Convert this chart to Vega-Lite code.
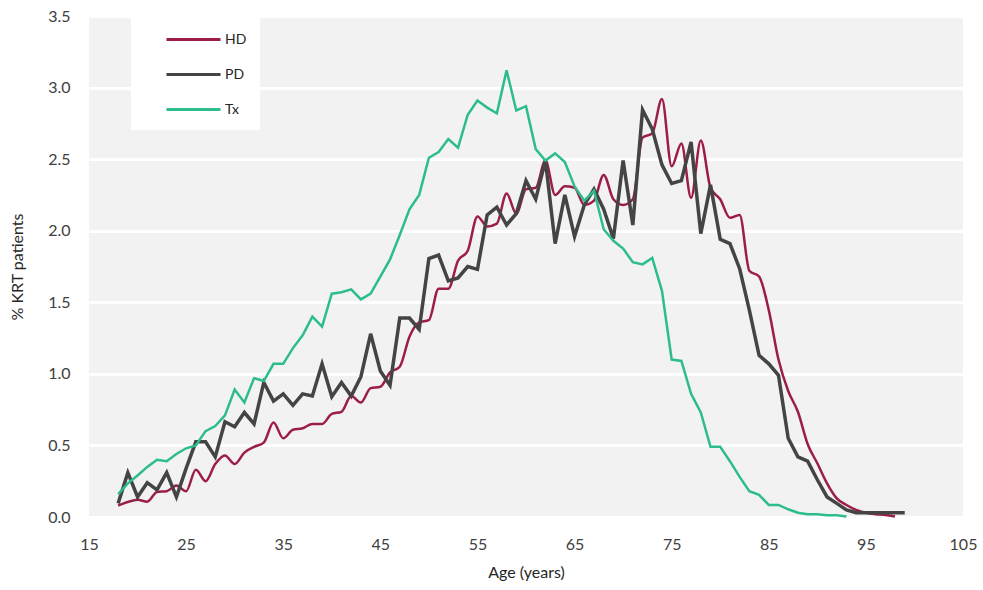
{
  "$schema": "https://vega.github.io/schema/vega-lite/v6.json",
  "width": 874,
  "height": 501,
  "autosize": "none",
  "padding": {"left": 89, "top": 16, "right": 20, "bottom": 73},
  "background": "white",
  "config": {
    "view": {"fill": "#f2f2f2", "stroke": null},
    "font": "Lato",
    "axis": {"labelFontSize": 16, "labelColor": "#404040", "titleFontSize": 16, "titleColor": "#262626", "titleFontWeight": "normal", "labelFont": "Lato", "titleFont": "Lato"}
  },
  "data": {"values": [
    {"age":18,"series":"HD","pct":0.08},{"age":19,"series":"HD","pct":0.105},{"age":20,"series":"HD","pct":0.12},{"age":21,"series":"HD","pct":0.107},{"age":22,"series":"HD","pct":0.175},{"age":23,"series":"HD","pct":0.18},{"age":24,"series":"HD","pct":0.22},{"age":25,"series":"HD","pct":0.18},{"age":26,"series":"HD","pct":0.33},{"age":27,"series":"HD","pct":0.25},{"age":28,"series":"HD","pct":0.37},{"age":29,"series":"HD","pct":0.43},{"age":30,"series":"HD","pct":0.37},{"age":31,"series":"HD","pct":0.45},{"age":32,"series":"HD","pct":0.49},{"age":33,"series":"HD","pct":0.52},{"age":34,"series":"HD","pct":0.66},{"age":35,"series":"HD","pct":0.55},{"age":36,"series":"HD","pct":0.61},{"age":37,"series":"HD","pct":0.62},{"age":38,"series":"HD","pct":0.65},{"age":39,"series":"HD","pct":0.65},{"age":40,"series":"HD","pct":0.72},{"age":41,"series":"HD","pct":0.735},{"age":42,"series":"HD","pct":0.845},{"age":43,"series":"HD","pct":0.8},{"age":44,"series":"HD","pct":0.9},{"age":45,"series":"HD","pct":0.91},{"age":46,"series":"HD","pct":1.01},{"age":47,"series":"HD","pct":1.05},{"age":48,"series":"HD","pct":1.26},{"age":49,"series":"HD","pct":1.36},{"age":50,"series":"HD","pct":1.375},{"age":51,"series":"HD","pct":1.595},{"age":52,"series":"HD","pct":1.595},{"age":53,"series":"HD","pct":1.79},{"age":54,"series":"HD","pct":1.86},{"age":55,"series":"HD","pct":2.1},{"age":56,"series":"HD","pct":2.03},{"age":57,"series":"HD","pct":2.05},{"age":58,"series":"HD","pct":2.26},{"age":59,"series":"HD","pct":2.12},{"age":60,"series":"HD","pct":2.29},{"age":61,"series":"HD","pct":2.3},{"age":62,"series":"HD","pct":2.49},{"age":63,"series":"HD","pct":2.25},{"age":64,"series":"HD","pct":2.31},{"age":65,"series":"HD","pct":2.3},{"age":66,"series":"HD","pct":2.18},{"age":67,"series":"HD","pct":2.21},{"age":68,"series":"HD","pct":2.39},{"age":69,"series":"HD","pct":2.22},{"age":70,"series":"HD","pct":2.18},{"age":71,"series":"HD","pct":2.22},{"age":72,"series":"HD","pct":2.65},{"age":73,"series":"HD","pct":2.68},{"age":74,"series":"HD","pct":2.92},{"age":75,"series":"HD","pct":2.45},{"age":76,"series":"HD","pct":2.61},{"age":77,"series":"HD","pct":2.23},{"age":78,"series":"HD","pct":2.63},{"age":79,"series":"HD","pct":2.3},{"age":80,"series":"HD","pct":2.22},{"age":81,"series":"HD","pct":2.09},{"age":82,"series":"HD","pct":2.11},{"age":83,"series":"HD","pct":1.72},{"age":84,"series":"HD","pct":1.68},{"age":85,"series":"HD","pct":1.445},{"age":86,"series":"HD","pct":1.1},{"age":87,"series":"HD","pct":0.88},{"age":88,"series":"HD","pct":0.735},{"age":89,"series":"HD","pct":0.51},{"age":90,"series":"HD","pct":0.375},{"age":91,"series":"HD","pct":0.235},{"age":92,"series":"HD","pct":0.13},{"age":93,"series":"HD","pct":0.084},{"age":94,"series":"HD","pct":0.05},{"age":95,"series":"HD","pct":0.03},{"age":96,"series":"HD","pct":0.02},{"age":97,"series":"HD","pct":0.014},{"age":98,"series":"HD","pct":0.003},
    {"age":18,"series":"PD","pct":0.095},{"age":19,"series":"PD","pct":0.31},{"age":20,"series":"PD","pct":0.14},{"age":21,"series":"PD","pct":0.24},{"age":22,"series":"PD","pct":0.19},{"age":23,"series":"PD","pct":0.31},{"age":24,"series":"PD","pct":0.14},{"age":25,"series":"PD","pct":0.34},{"age":26,"series":"PD","pct":0.525},{"age":27,"series":"PD","pct":0.525},{"age":28,"series":"PD","pct":0.42},{"age":29,"series":"PD","pct":0.665},{"age":30,"series":"PD","pct":0.63},{"age":31,"series":"PD","pct":0.73},{"age":32,"series":"PD","pct":0.65},{"age":33,"series":"PD","pct":0.94},{"age":34,"series":"PD","pct":0.81},{"age":35,"series":"PD","pct":0.86},{"age":36,"series":"PD","pct":0.78},{"age":37,"series":"PD","pct":0.86},{"age":38,"series":"PD","pct":0.845},{"age":39,"series":"PD","pct":1.07},{"age":40,"series":"PD","pct":0.84},{"age":41,"series":"PD","pct":0.94},{"age":42,"series":"PD","pct":0.845},{"age":43,"series":"PD","pct":0.98},{"age":44,"series":"PD","pct":1.28},{"age":45,"series":"PD","pct":1.02},{"age":46,"series":"PD","pct":0.92},{"age":47,"series":"PD","pct":1.39},{"age":48,"series":"PD","pct":1.39},{"age":49,"series":"PD","pct":1.31},{"age":50,"series":"PD","pct":1.805},{"age":51,"series":"PD","pct":1.83},{"age":52,"series":"PD","pct":1.65},{"age":53,"series":"PD","pct":1.67},{"age":54,"series":"PD","pct":1.75},{"age":55,"series":"PD","pct":1.73},{"age":56,"series":"PD","pct":2.11},{"age":57,"series":"PD","pct":2.165},{"age":58,"series":"PD","pct":2.04},{"age":59,"series":"PD","pct":2.12},{"age":60,"series":"PD","pct":2.35},{"age":61,"series":"PD","pct":2.22},{"age":62,"series":"PD","pct":2.49},{"age":63,"series":"PD","pct":1.91},{"age":64,"series":"PD","pct":2.25},{"age":65,"series":"PD","pct":1.96},{"age":66,"series":"PD","pct":2.18},{"age":67,"series":"PD","pct":2.29},{"age":68,"series":"PD","pct":2.15},{"age":69,"series":"PD","pct":1.945},{"age":70,"series":"PD","pct":2.49},{"age":71,"series":"PD","pct":2.04},{"age":72,"series":"PD","pct":2.845},{"age":73,"series":"PD","pct":2.71},{"age":74,"series":"PD","pct":2.46},{"age":75,"series":"PD","pct":2.33},{"age":76,"series":"PD","pct":2.35},{"age":77,"series":"PD","pct":2.62},{"age":78,"series":"PD","pct":1.98},{"age":79,"series":"PD","pct":2.32},{"age":80,"series":"PD","pct":1.94},{"age":81,"series":"PD","pct":1.91},{"age":82,"series":"PD","pct":1.735},{"age":83,"series":"PD","pct":1.445},{"age":84,"series":"PD","pct":1.13},{"age":85,"series":"PD","pct":1.07},{"age":86,"series":"PD","pct":0.99},{"age":87,"series":"PD","pct":0.55},{"age":88,"series":"PD","pct":0.42},{"age":89,"series":"PD","pct":0.39},{"age":90,"series":"PD","pct":0.26},{"age":91,"series":"PD","pct":0.14},{"age":92,"series":"PD","pct":0.095},{"age":93,"series":"PD","pct":0.05},{"age":94,"series":"PD","pct":0.03},{"age":95,"series":"PD","pct":0.03},{"age":96,"series":"PD","pct":0.03},{"age":97,"series":"PD","pct":0.03},{"age":98,"series":"PD","pct":0.03},{"age":99,"series":"PD","pct":0.03},
    {"age":18,"series":"Tx","pct":0.16},{"age":19,"series":"Tx","pct":0.235},{"age":20,"series":"Tx","pct":0.29},{"age":21,"series":"Tx","pct":0.35},{"age":22,"series":"Tx","pct":0.4},{"age":23,"series":"Tx","pct":0.39},{"age":24,"series":"Tx","pct":0.44},{"age":25,"series":"Tx","pct":0.48},{"age":26,"series":"Tx","pct":0.5},{"age":27,"series":"Tx","pct":0.6},{"age":28,"series":"Tx","pct":0.635},{"age":29,"series":"Tx","pct":0.71},{"age":30,"series":"Tx","pct":0.89},{"age":31,"series":"Tx","pct":0.8},{"age":32,"series":"Tx","pct":0.97},{"age":33,"series":"Tx","pct":0.95},{"age":34,"series":"Tx","pct":1.07},{"age":35,"series":"Tx","pct":1.07},{"age":36,"series":"Tx","pct":1.18},{"age":37,"series":"Tx","pct":1.27},{"age":38,"series":"Tx","pct":1.4},{"age":39,"series":"Tx","pct":1.33},{"age":40,"series":"Tx","pct":1.56},{"age":41,"series":"Tx","pct":1.57},{"age":42,"series":"Tx","pct":1.59},{"age":43,"series":"Tx","pct":1.52},{"age":44,"series":"Tx","pct":1.56},{"age":45,"series":"Tx","pct":1.68},{"age":46,"series":"Tx","pct":1.8},{"age":47,"series":"Tx","pct":1.97},{"age":48,"series":"Tx","pct":2.15},{"age":49,"series":"Tx","pct":2.25},{"age":50,"series":"Tx","pct":2.51},{"age":51,"series":"Tx","pct":2.55},{"age":52,"series":"Tx","pct":2.64},{"age":53,"series":"Tx","pct":2.58},{"age":54,"series":"Tx","pct":2.81},{"age":55,"series":"Tx","pct":2.91},{"age":56,"series":"Tx","pct":2.86},{"age":57,"series":"Tx","pct":2.82},{"age":58,"series":"Tx","pct":3.12},{"age":59,"series":"Tx","pct":2.84},{"age":60,"series":"Tx","pct":2.87},{"age":61,"series":"Tx","pct":2.57},{"age":62,"series":"Tx","pct":2.49},{"age":63,"series":"Tx","pct":2.54},{"age":64,"series":"Tx","pct":2.48},{"age":65,"series":"Tx","pct":2.31},{"age":66,"series":"Tx","pct":2.21},{"age":67,"series":"Tx","pct":2.28},{"age":68,"series":"Tx","pct":2.01},{"age":69,"series":"Tx","pct":1.93},{"age":70,"series":"Tx","pct":1.875},{"age":71,"series":"Tx","pct":1.78},{"age":72,"series":"Tx","pct":1.765},{"age":73,"series":"Tx","pct":1.81},{"age":74,"series":"Tx","pct":1.58},{"age":75,"series":"Tx","pct":1.1},{"age":76,"series":"Tx","pct":1.09},{"age":77,"series":"Tx","pct":0.86},{"age":78,"series":"Tx","pct":0.73},{"age":79,"series":"Tx","pct":0.49},{"age":80,"series":"Tx","pct":0.49},{"age":81,"series":"Tx","pct":0.39},{"age":82,"series":"Tx","pct":0.28},{"age":83,"series":"Tx","pct":0.18},{"age":84,"series":"Tx","pct":0.155},{"age":85,"series":"Tx","pct":0.084},{"age":86,"series":"Tx","pct":0.084},{"age":87,"series":"Tx","pct":0.054},{"age":88,"series":"Tx","pct":0.03},{"age":89,"series":"Tx","pct":0.02},{"age":90,"series":"Tx","pct":0.02},{"age":91,"series":"Tx","pct":0.012},{"age":92,"series":"Tx","pct":0.012},{"age":93,"series":"Tx","pct":0.003}
  ]},
  "encoding": {
    "x": {
      "field": "age", "type": "quantitative",
      "scale": {"domain": [15, 105], "nice": false, "zero": false},
      "axis": {"values": [15, 25, 35, 45, 55, 65, 75, 85, 95, 105], "title": "Age (years)", "grid": false, "domain": false, "ticks": false, "labelPadding": 19, "titlePadding": 12, "labelFlush": false}
    },
    "y": {
      "field": "pct", "type": "quantitative",
      "scale": {"domain": [0, 3.5], "nice": false},
      "axis": {"values": [0, 0.5, 1, 1.5, 2, 2.5, 3, 3.5], "format": ".1f", "title": "% KRT patients", "grid": true, "gridColor": "white", "gridWidth": 3, "gridOpacity": 1, "domain": false, "ticks": false, "labelPadding": 19, "titlePadding": 22}
    },
    "color": {
      "field": "series", "type": "nominal",
      "scale": {"domain": ["HD", "PD", "Tx"], "range": ["#9c1c4b", "#444444", "#2dbd8c"]},
      "legend": {"title": null, "orient": "none", "legendX": 42, "legendY": 0, "fillColor": "white", "padding": 13, "symbolOffset": 39, "symbolType": "M-3,0H3", "symbolSize": 324, "symbolStrokeWidth": 3, "labelFontSize": 14, "labelColor": "#262626", "labelOffset": 21, "rowPadding": 17}
    }
  },
  "layer": [
    {"transform": [{"filter": "datum.series === 'HD'"}], "mark": {"type": "line", "interpolate": "monotone", "strokeWidth": 2.5}},
    {"transform": [{"filter": "datum.series === 'PD'"}], "mark": {"type": "line", "strokeWidth": 3.5}},
    {"transform": [{"filter": "datum.series === 'Tx'"}], "mark": {"type": "line", "strokeWidth": 2.5}}
  ]
}
